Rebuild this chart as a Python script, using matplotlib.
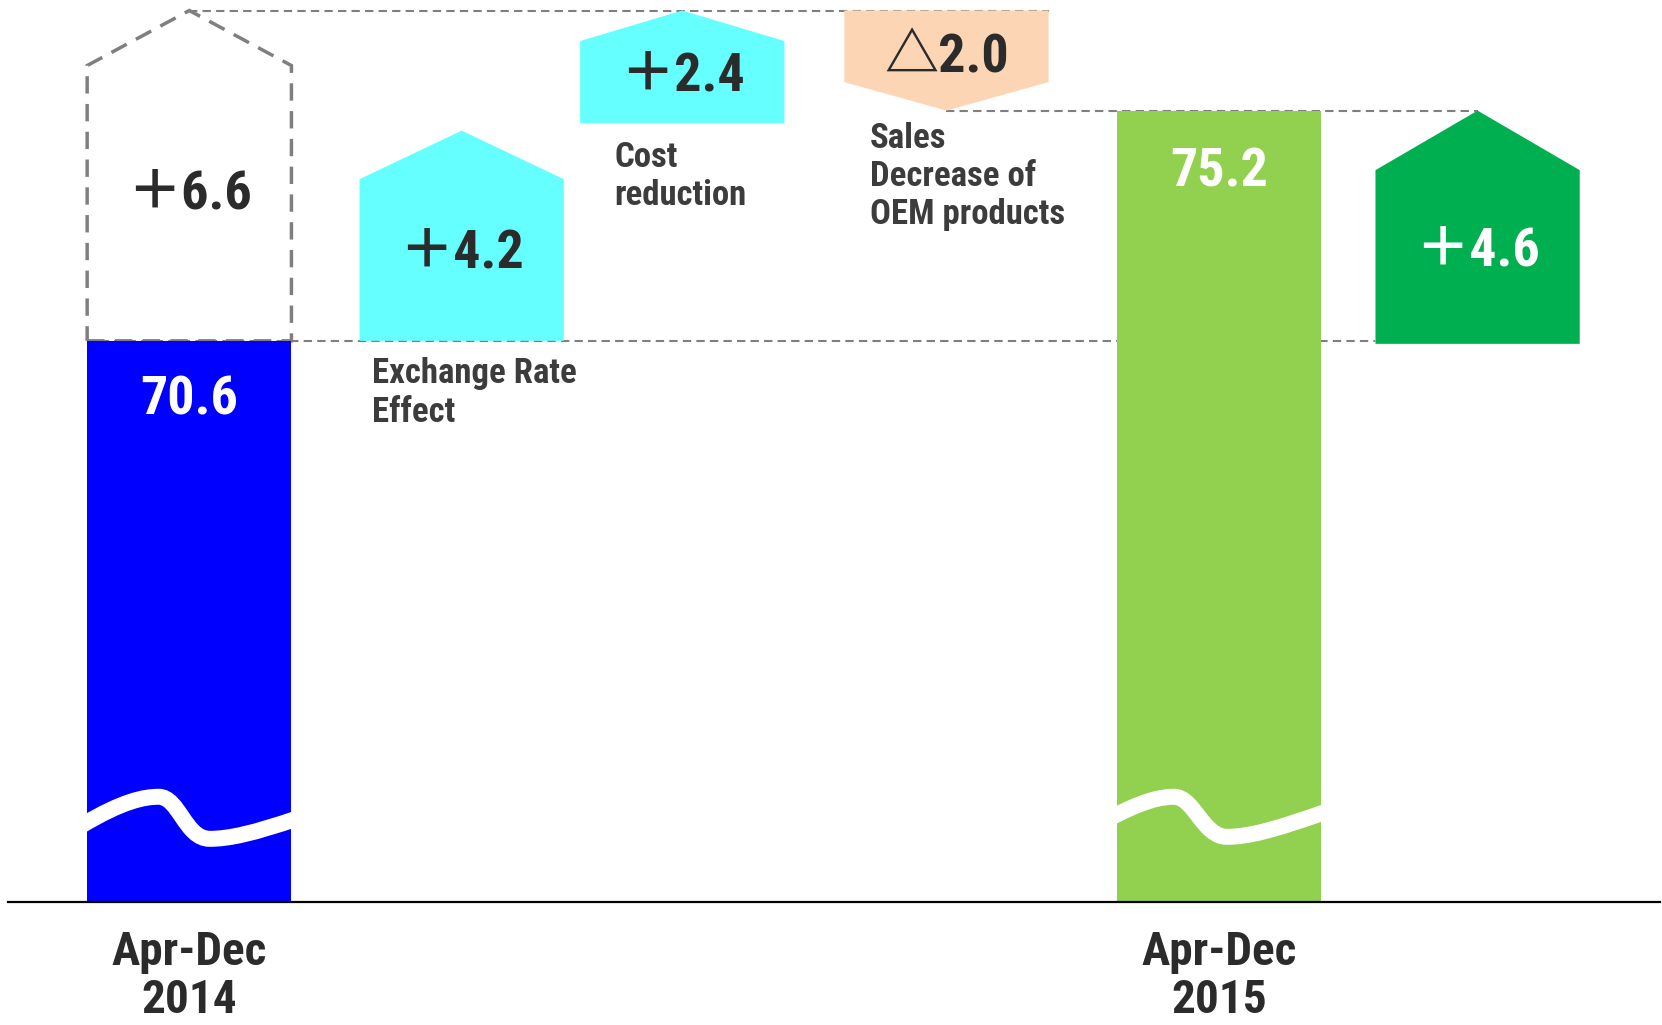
import matplotlib
matplotlib.use("Agg")
import matplotlib.pyplot as plt
from matplotlib import font_manager as fm
from matplotlib.patches import Polygon, PathPatch
from matplotlib.path import Path

# ---------------- data ----------------
period_labels = ["Apr-Dec\n2014", "Apr-Dec\n2015"]
period_values = [70.6, 75.2]
factor_names = ["Exchange Rate\nEffect", "Cost\nreduction", "Sales\nDecrease of\nOEM products"]
factor_values = [4.2, 2.4, -2.0]
factor_labels = ["＋4.2", "＋2.4", "△2.0"]
subtotal_label = "＋6.6"       # exchange rate + cost reduction
total_change_label = "＋4.6"   # 2015 - 2014
period_value_labels = ["70.6", "75.2"]

# ---------------- font choice (prefer a condensed face) ----------------
_entries = fm.fontManager.ttflist
_names = {f.name for f in _entries}
STRETCH = "normal"
SCALE = 1.0
for cand in ["Liberation Sans Narrow", "Roboto Condensed", "Open Sans Condensed",
             "Noto Sans Condensed", "Arial Narrow"]:
    if cand in _names:
        BASEFONT = cand
        break
else:
    if any(f.name == "DejaVu Sans" and "condensed" in str(f.stretch) for f in _entries):
        BASEFONT, STRETCH, SCALE = "DejaVu Sans", "condensed", 0.86
    else:
        BASEFONT, SCALE = "Roboto", 0.9
FONT = [BASEFONT, "Noto Sans CJK JP", "DejaVu Sans"]

# ---------------- layout / style ----------------
AXIS_FLOOR = 59.39            # value drawn at the (broken) baseline
X_START, X_FX, X_COST, X_SALES, X_END, X_CHG = 0.0, 1.0, 1.81, 2.78, 3.78, 4.73
W = 0.75
HEAD = {"sub": 1.10, "fx": 0.97, "cost": 0.61, "sales": 0.57, "chg": 1.19}
C_BLUE, C_CYAN, C_PEACH, C_LGREEN, C_DGREEN = "#0000FF", "#66FFFF", "#FCD5B5", "#92D050", "#00B050"
C_TEXT, C_LABEL, C_DASH = "#2b2b2b", "#3c3c3c", "#7f7f7f"
Y_MIN, Y_MAX = 56.93, 77.41

fig = plt.figure(figsize=(16.62, 10.25), dpi=100)
ax = fig.add_axes([0, 0, 1, 1])
ax.set_xlim(-0.695, 5.407)
ax.set_ylim(Y_MIN, Y_MAX)
ax.axis("off")


def up_arrow(x, bottom, top, head, **kw):
    pts = [(x - W / 2, bottom), (x + W / 2, bottom), (x + W / 2, top - head),
           (x, top), (x - W / 2, top - head)]
    return ax.add_patch(Polygon(pts, closed=True, **kw))


def down_arrow(x, top, bottom, head, **kw):
    pts = [(x - W / 2, top), (x + W / 2, top), (x + W / 2, bottom + head),
           (x, bottom), (x - W / 2, bottom + head)]
    return ax.add_patch(Polygon(pts, closed=True, **kw))


def wave(x, rect, yl, px, yp, tx, yt, yr):
    """white break symbol drawn across a bar (decoration)"""
    L = x - W / 2
    X = lambda f: L + f * W
    Y = lambda v: AXIS_FLOOR + v
    verts = [(X(-0.03), Y(yl - 0.06)),
             (X(px * 0.5), Y(yl + (yp - yl) * 0.85)), (X(px * 0.8), Y(yp)), (X(px), Y(yp)),
             (X(px + 0.10), Y(yp)), (X(tx - 0.12), Y(yt)), (X(tx), Y(yt)),
             (X(tx + 0.10), Y(yt)), (X(tx + 0.22), Y(yt + 0.12)), (X(1.03), Y(yr + 0.03))]
    codes = [Path.MOVETO] + [Path.CURVE4] * 9
    pp = PathPatch(Path(verts, codes), facecolor="none", edgecolor="white",
                   lw=11.5, capstyle="butt", zorder=4)
    ax.add_patch(pp)
    pp.set_clip_path(rect)


start, end = period_values
fx, cost, sales = factor_values
subtotal = fx + cost
peak = start + subtotal
change = end - start

# dashed guide lines
guide = dict(color=C_DASH, lw=1.5, ls=(0, (4, 2.5)), zorder=1)
ax.plot([X_START, X_SALES + W / 2], [peak, peak], **guide)
ax.plot([X_START - W / 2, X_CHG - W / 2], [start, start], **guide)
ax.plot([X_SALES, X_CHG], [end, end], **guide)

# baseline
ax.axhline(AXIS_FLOOR, xmin=0.005, xmax=0.999, color="black", lw=1.6, zorder=5)

# period bars
bars = ax.bar([X_START, X_END], [start - AXIS_FLOOR, end - AXIS_FLOOR], width=W,
              bottom=AXIS_FLOOR, color=[C_BLUE, C_LGREEN], zorder=3)
wave(X_START, bars[0], 1.58, 0.35, 2.10, 0.60, 1.26, 1.64)
wave(X_END, bars[1], 1.74, 0.28, 2.10, 0.54, 1.30, 1.78)

# subtotal dashed pentagon
up_arrow(X_START, start, peak, HEAD["sub"], facecolor="none", edgecolor=C_DASH,
         lw=2.5, ls=(0, (5, 3)), zorder=2)

# factors
up_arrow(X_FX, start, start + fx, HEAD["fx"], facecolor=C_CYAN, edgecolor="none", zorder=3)
up_arrow(X_COST, start + fx + 0.15, start + fx + cost, HEAD["cost"], facecolor=C_CYAN,
         edgecolor="none", zorder=3)
down_arrow(X_SALES, peak, peak + sales, HEAD["sales"], facecolor=C_PEACH,
           edgecolor="none", zorder=3)
up_arrow(X_CHG, start - 0.06, start + change, HEAD["chg"], facecolor=C_DGREEN,
         edgecolor="none", zorder=3)

# value labels
vkw = dict(ha="center", va="center", fontsize=39 * SCALE, fontweight="bold", family=FONT,
           fontstretch=STRETCH, zorder=6)
ax.text(X_START, start + subtotal * 0.445, subtotal_label, color=C_TEXT, **vkw)
ax.text(X_FX, start + fx * 0.42, factor_labels[0], color=C_TEXT, **vkw)
ax.text(X_COST, start + fx + 0.15 + (cost - 0.15) * 0.42, factor_labels[1], color=C_TEXT, **vkw)
ax.text(X_SALES, peak + sales * 0.47, factor_labels[2], color=C_TEXT, **vkw)
ax.text(X_CHG, start + change * 0.39, total_change_label, color="white", **vkw)
ax.text(X_START, start - 1.19, period_value_labels[0], color="white", **vkw)
ax.text(X_END, end - 1.23, period_value_labels[1], color="white", **vkw)

# factor names
nkw = dict(ha="left", va="top", fontsize=25 * SCALE, fontweight="bold", family=FONT,
           fontstretch=STRETCH, color=C_LABEL, linespacing=1.2, zorder=6)
ax.text(X_FX - 0.33, start - 0.33, factor_names[0], **nkw)
ax.text(X_COST - 0.25, start + fx - 0.20, factor_names[1], **nkw)
ax.text(X_SALES - 0.28, end - 0.22, factor_names[2], **nkw)

# period labels
for xpos, lab in zip([X_START, X_END], period_labels):
    ax.text(xpos, Y_MIN + 0.06, lab, ha="center", va="bottom", fontsize=34 * SCALE,
            fontweight="bold", family=FONT, fontstretch=STRETCH, color=C_TEXT,
            linespacing=1.1)

fig.savefig("out.png", dpi=100)
